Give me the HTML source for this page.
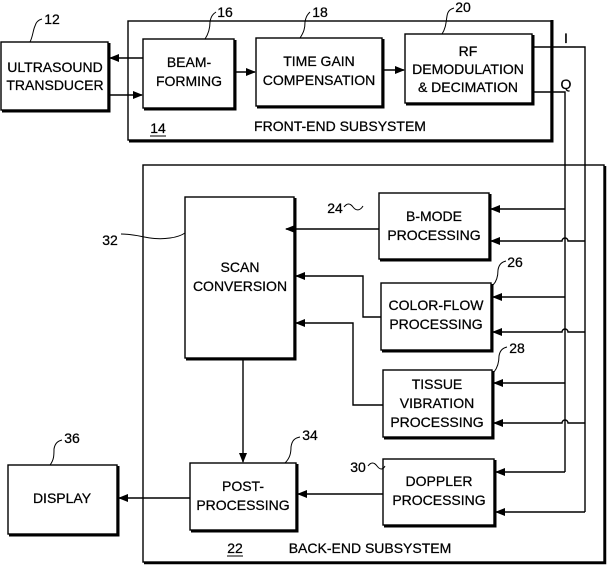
<!DOCTYPE html>
<html><head><meta charset="utf-8"><style>
html,body{margin:0;padding:0;background:#fff;}
svg{display:block;}
text{font-family:"Liberation Sans",sans-serif;font-size:14px;fill:#000;text-anchor:middle;stroke:#000;stroke-width:0.25;}
</style></head><body>
<svg width="612" height="568" viewBox="0 0 612 568" xmlns="http://www.w3.org/2000/svg">
<defs>
<marker id="a" markerWidth="10" markerHeight="8" refX="9" refY="4" orient="auto" markerUnits="userSpaceOnUse">
<path d="M0,0 L10,4 L0,8 z" fill="#000"/></marker>
</defs>
<g fill="none" stroke="#000" stroke-width="1.4">
<rect x="128" y="21" width="423" height="119"/>
<path d="M552,20 V141 H129" stroke-width="3"/>
<rect x="143" y="165" width="461" height="397"/>
<path d="M605,166 V563 H144" stroke-width="2.5"/>
<rect x="1" y="42" width="107" height="68"/><path d="M109,43 V111 H2" stroke-width="3"/>
<rect x="143" y="39" width="91" height="69"/><path d="M235,40 V109 H144" stroke-width="3"/>
<rect x="256" y="38" width="126" height="68"/><path d="M383,39 V107 H257" stroke-width="3"/>
<rect x="405" y="34" width="127" height="69"/><path d="M533,35 V104 H406" stroke-width="3"/>
<rect x="185" y="197" width="109" height="161"/><path d="M295,198 V359 H186" stroke-width="3"/>
<rect x="379" y="193" width="110" height="66"/><path d="M490,194 V260 H380" stroke-width="3"/>
<rect x="381" y="283" width="110" height="67"/><path d="M492,284 V351 H382" stroke-width="3"/>
<rect x="383" y="370" width="109" height="67"/><path d="M493,371 V438 H384" stroke-width="3"/>
<rect x="383" y="459" width="111" height="66"/><path d="M495,460 V526 H384" stroke-width="3"/>
<rect x="190" y="463" width="106" height="67"/><path d="M297,464 V531 H191" stroke-width="3"/>
<rect x="8" y="465" width="109" height="69"/><path d="M118,466 V535 H9" stroke-width="3"/>
<line x1="143" y1="58" x2="110" y2="58" marker-end="url(#a)"/>
<line x1="110" y1="95" x2="142" y2="95" marker-end="url(#a)"/>
<line x1="236" y1="72" x2="255" y2="72" marker-end="url(#a)"/>
<line x1="384" y1="70" x2="404" y2="70" marker-end="url(#a)"/>
<path d="M534,47 H585 V512"/>
<path d="M534,92 H565 V472"/>
<line x1="565" y1="209" x2="491" y2="209" marker-end="url(#a)"/>
<line x1="565" y1="297" x2="493" y2="297" marker-end="url(#a)"/>
<line x1="565" y1="383" x2="494" y2="383" marker-end="url(#a)"/>
<line x1="565" y1="472" x2="496" y2="472" marker-end="url(#a)"/>
<path d="M585,241 H568 a3,3 0 0 0 -6,0 H491" marker-end="url(#a)"/>
<path d="M585,332 H568 a3,3 0 0 0 -6,0 H493" marker-end="url(#a)"/>
<path d="M585,423 H568 a3,3 0 0 0 -6,0 H494" marker-end="url(#a)"/>
<line x1="585" y1="512" x2="496" y2="512" marker-end="url(#a)"/>
<line x1="379" y1="229" x2="286" y2="229" marker-end="url(#a)"/>
<path d="M381,317 H363 V276 H296" marker-end="url(#a)"/>
<path d="M383,405 H353 V323 H296" marker-end="url(#a)"/>
<line x1="383" y1="494" x2="298" y2="494" marker-end="url(#a)"/>
<line x1="243" y1="359" x2="243" y2="462" marker-end="url(#a)"/>
<line x1="190" y1="498" x2="119" y2="498" marker-end="url(#a)"/>
<g stroke-width="1">
<path d="M30,42 C33,36 33,30 35,26 C36,22 38,20 42,19"/>
<path d="M205,39 C209,33 210,28 210,22 C211,16 213,14 216,12"/>
<path d="M300,38 C304,32 305,28 305,22 C306,16 308,14 310,12"/>
<path d="M442,34 C446,28 446,22 447,16 C448,10 451,9 454,8"/>
<path d="M344,207 C347,203 350,203 353,207 C356,211 360,211 363,206"/>
<path d="M493,285 C497,281 498,276 498,270 C499,264 502,262 506,261"/>
<path d="M494,372 C498,367 499,362 499,356 C500,350 503,348 507,347"/>
<path d="M368,466 C371,462 374,462 377,466 C380,470 383,470 385,466"/>
<path d="M121,234 C140,234 150,241 170,238 C178,237 182,235 185,233"/>
<path d="M285,463 C290,458 291,453 291,447 C292,440 295,438 300,437"/>
<path d="M50,465 C54,460 54,455 54,449 C55,443 58,441 62,440"/>
</g>
</g>
<text x="55" y="72">ULTRASOUND</text><text x="55" y="90">TRANSDUCER</text>
<text x="189" y="67">BEAM-</text><text x="189" y="86">FORMING</text>
<text x="319" y="66">TIME GAIN</text><text x="319" y="85">COMPENSATION</text>
<text x="468" y="56">RF</text><text x="468" y="74">DEMODULATION</text><text x="468" y="92">&amp; DECIMATION</text>
<text x="240" y="272">SCAN</text><text x="240" y="291">CONVERSION</text>
<text x="434" y="221">B-MODE</text><text x="434" y="240">PROCESSING</text>
<text x="436" y="310">COLOR-FLOW</text><text x="436" y="329">PROCESSING</text>
<text x="437" y="389">TISSUE</text><text x="437" y="408">VIBRATION</text><text x="437" y="427">PROCESSING</text>
<text x="439" y="486">DOPPLER</text><text x="439" y="505">PROCESSING</text>
<text x="243" y="491">POST-</text><text x="243" y="510">PROCESSING</text>
<text x="62" y="503">DISPLAY</text>
<text x="340" y="131">FRONT-END SUBSYSTEM</text>
<text x="370" y="553">BACK-END SUBSYSTEM</text>
<text x="158" y="133">14</text>
<line x1="150" y1="136" x2="166" y2="136" stroke="#000"/>
<text x="235" y="553">22</text>
<line x1="227" y1="556" x2="243" y2="556" stroke="#000"/>
<text x="52" y="24">12</text>
<text x="225" y="17">16</text>
<text x="320" y="17">18</text>
<text x="463" y="12">20</text>
<text x="566" y="43">I</text>
<text x="566" y="89">Q</text>
<text x="335" y="213">24</text>
<text x="515" y="267">26</text>
<text x="517" y="353">28</text>
<text x="358" y="472">30</text>
<text x="110" y="245">32</text>
<text x="310" y="440">34</text>
<text x="72" y="443">36</text>
</svg>
</body></html>
